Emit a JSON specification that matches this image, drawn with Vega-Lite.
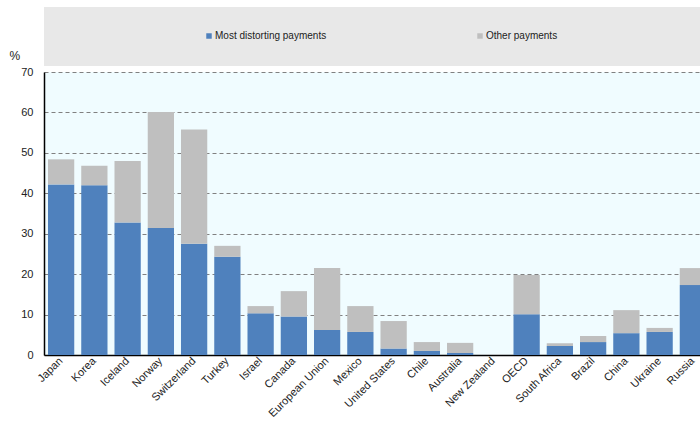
{
  "$schema": "https://vega.github.io/schema/vega-lite/v6.json",
  "autosize": {"type": "pad"},
  "padding": {"left": 9, "top": 7, "right": 0, "bottom": 0},
  "background": "white",
  "config": {
    "font": "Liberation Sans",
    "concat": {"spacing": 6}
  },
  "bounds": "flush",
  "datasets": {
    "bars": [
      {"country": "Japan", "type": "Most distorting payments", "value": 42.2},
      {"country": "Japan", "type": "Other payments", "value": 6.2},
      {"country": "Korea", "type": "Most distorting payments", "value": 42.0},
      {"country": "Korea", "type": "Other payments", "value": 4.8},
      {"country": "Iceland", "type": "Most distorting payments", "value": 32.8},
      {"country": "Iceland", "type": "Other payments", "value": 15.2},
      {"country": "Norway", "type": "Most distorting payments", "value": 31.4},
      {"country": "Norway", "type": "Other payments", "value": 28.7},
      {"country": "Switzerland", "type": "Most distorting payments", "value": 27.5},
      {"country": "Switzerland", "type": "Other payments", "value": 28.3},
      {"country": "Turkey", "type": "Most distorting payments", "value": 24.3},
      {"country": "Turkey", "type": "Other payments", "value": 2.7},
      {"country": "Israel", "type": "Most distorting payments", "value": 10.3},
      {"country": "Israel", "type": "Other payments", "value": 1.8},
      {"country": "Canada", "type": "Most distorting payments", "value": 9.5},
      {"country": "Canada", "type": "Other payments", "value": 6.3},
      {"country": "European Union", "type": "Most distorting payments", "value": 6.2},
      {"country": "European Union", "type": "Other payments", "value": 15.3},
      {"country": "Mexico", "type": "Most distorting payments", "value": 5.7},
      {"country": "Mexico", "type": "Other payments", "value": 6.4},
      {"country": "United States", "type": "Most distorting payments", "value": 1.6},
      {"country": "United States", "type": "Other payments", "value": 6.8},
      {"country": "Chile", "type": "Most distorting payments", "value": 1.0},
      {"country": "Chile", "type": "Other payments", "value": 2.2},
      {"country": "Australia", "type": "Most distorting payments", "value": 0.5},
      {"country": "Australia", "type": "Other payments", "value": 2.5},
      {"country": "New Zealand", "type": "Most distorting payments", "value": 0.0},
      {"country": "New Zealand", "type": "Other payments", "value": 0.1},
      {"country": "OECD", "type": "Most distorting payments", "value": 10.1},
      {"country": "OECD", "type": "Other payments", "value": 9.7},
      {"country": "South Africa", "type": "Most distorting payments", "value": 2.2},
      {"country": "South Africa", "type": "Other payments", "value": 0.7},
      {"country": "Brazil", "type": "Most distorting payments", "value": 3.2},
      {"country": "Brazil", "type": "Other payments", "value": 1.5},
      {"country": "China", "type": "Most distorting payments", "value": 5.4},
      {"country": "China", "type": "Other payments", "value": 5.7},
      {"country": "Ukraine", "type": "Most distorting payments", "value": 5.7},
      {"country": "Ukraine", "type": "Other payments", "value": 1.0},
      {"country": "Russia", "type": "Most distorting payments", "value": 17.3},
      {"country": "Russia", "type": "Other payments", "value": 4.2}
    ],
    "blank": [{"t": ""}]
  },
  "vconcat": [
    {
      "width": 666,
      "height": 59,
      "data": {"name": "blank"},
      "view": {"fill": "#E8E8E8", "stroke": null},
      "mark": {"type": "text", "text": ""},
      "encoding": {}
    },
    {
      "width": 666,
      "height": 283,
      "data": {"name": "bars"},
      "view": {"fill": "#F0FCFF", "stroke": null},
      "mark": {"type": "bar"},
      "encoding": {
        "x": {
          "field": "country",
          "type": "nominal",
          "sort": null,
          "scale": {"paddingInner": 0.21, "paddingOuter": 0.12},
          "axis": {
            "title": null,
            "labelAngle": -45,
            "labelAlign": "right",
            "labelBaseline": "middle",
            "labelFontSize": 11,
            "labelColor": "#222",
            "labelPadding": 4,
            "ticks": false,
            "domainColor": "#000",
            "domainWidth": 1.5,
            "labelLimit": 200
          }
        },
        "y": {
          "field": "value",
          "type": "quantitative",
          "stack": "zero",
          "scale": {"domain": [0, 70]},
          "axis": {
            "values": [0, 10, 20, 30, 40, 50, 60, 70],
            "title": "%",
            "titleAngle": 0,
            "titleAlign": "left",
            "titleBaseline": "alphabetic",
            "titleX": -35,
            "titleY": -13,
            "titleFontSize": 12,
            "titleFontWeight": "normal",
            "titleColor": "#222",
            "labelFontSize": 11,
            "labelColor": "#222",
            "labelPadding": 11,
            "ticks": false,
            "domainColor": "#000",
            "domainWidth": 1.5,
            "gridColor": "#808080",
            "gridDash": [4, 3],
            "gridWidth": 1
          }
        },
        "color": {
          "field": "type",
          "type": "nominal",
          "scale": {
            "domain": ["Most distorting payments", "Other payments"],
            "range": ["#4F81BD", "#BFBFBF"]
          },
          "legend": {
            "orient": "none",
            "legendX": 160,
            "legendY": 24,
            "direction": "horizontal",
            "title": null,
            "symbolType": "square",
            "symbolSize": 30,
            "symbolStrokeWidth": 0,
            "labelFont": "Liberation Sans",
            "labelFontSize": 10,
            "labelColor": "#222",
            "labelOffset": 1,
            "columnPadding": 148,
            "padding": 0
          }
        },
        "order": {"field": "type", "sort": "ascending"}
      }
    }
  ]
}
